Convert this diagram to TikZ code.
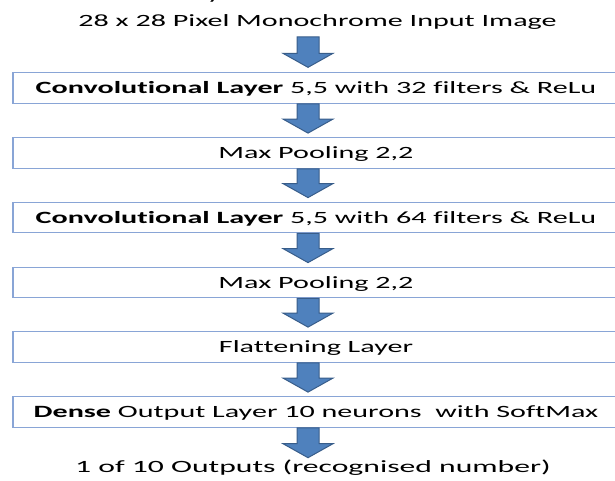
\documentclass[tikz,border=0pt]{standalone}
\usepackage{fontspec}
\setmainfont{Carlito}[FakeStretch=1.75, Ligatures={NoCommon}]
\newfontfamily\widefont{Carlito}[FakeStretch=1.84, Ligatures={NoCommon}]
\usetikzlibrary{calc}
\definecolor{boxline}{RGB}{137,165,214}
\definecolor{arrfill}{RGB}{79,129,189}
\definecolor{arredge}{RGB}{56,93,138}
\tikzset{
  layerbox/.style={draw=boxline, line width=1.3pt, fill=white, minimum width=606pt, minimum height=30.5pt, inner sep=0pt, text height=14pt, text depth=3pt, font=\fontsize{17.2}{20}\selectfont},
  plaintext/.style={inner sep=0pt, anchor=base, font=\fontsize{17.2}{20}\selectfont},
  barrow/.style={fill=arrfill, draw=arredge, line width=1pt, line join=miter}
}
\newcommand{\blockarrow}[2]{%
  \draw[barrow] let \p1=(#1), \p2=(#2) in
    (\x1-11pt,\y1) -- (\x1+11pt,\y1) -- (\x1+11pt,\y2+14pt) -- (\x1+25pt,\y2+14pt)
    -- (\x2,\y2) -- (\x1-25pt,\y2+14pt) -- (\x1-11pt,\y2+14pt) -- cycle;}
\begin{document}
\begin{tikzpicture}[x=1pt,y=1pt]
\useasboundingbox (0,0) rectangle (615,480);
\clip (0,0) rectangle (615,480);
\coordinate (axis) at (308,240);
\node[plaintext] (frag) at (214,480.5) {y};
\node[plaintext] (title) at (317.5,453) {28 x 28 Pixel Monochrome Input Image};
\node[layerbox] (b1) at (316,392) {\textbf{Convolutional Layer} 5,5 with 32 filters \& ReLu};
\node[layerbox] (b2) at (316,327) {Max Pooling 2,2};
\node[layerbox] (b3) at (316,262.5) {\textbf{Convolutional Layer} 5,5 with 64 filters \& ReLu};
\node[layerbox] (b4) at (316,197.5) {Max Pooling 2,2};
\node[layerbox] (b5) at (316,133) {Flattening Layer};
\node[layerbox] (b6) at (316,68) {\textbf{Dense} Output Layer 10 neurons\ \ with SoftMax};
\node[plaintext, font=\fontsize{17.2}{20}\widefont] (out) at (313,8) {1 of 10 Outputs (recognised number)};
\blockarrow{$(title.base -| axis)+(0,-10)$}{$(b1.north -| axis)+(0,4.75)$}
\blockarrow{b1.south -| axis}{$(b2.north -| axis)+(0,4)$}
\blockarrow{b2.south -| axis}{$(b3.north -| axis)+(0,4)$}
\blockarrow{b3.south -| axis}{$(b4.north -| axis)+(0,4)$}
\blockarrow{b4.south -| axis}{$(b5.north -| axis)+(0,4)$}
\blockarrow{b5.south -| axis}{$(b6.north -| axis)+(0,4)$}
\blockarrow{b6.south -| axis}{$(out.base -| axis)+(0,14.3)$}
\end{tikzpicture}
\end{document}
